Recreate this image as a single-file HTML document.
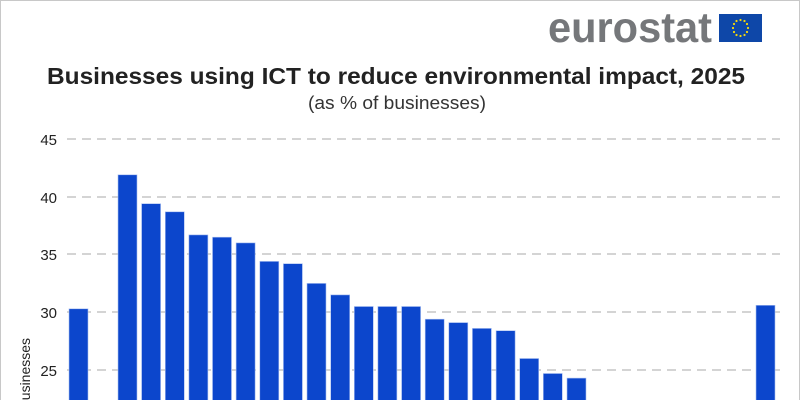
<!DOCTYPE html>
<html><head><meta charset="utf-8"><style>
html,body{margin:0;padding:0;background:#fff;overflow:hidden}
body{width:800px;height:400px;overflow:hidden;position:relative;font-family:"Liberation Sans",sans-serif}
</style></head><body>
<svg width="800" height="400" xmlns="http://www.w3.org/2000/svg" style="position:absolute;left:0;top:0;overflow:hidden">
<rect x="0.5" y="0.5" width="799" height="410" fill="#fff" stroke="#c8c8c8"/>
<text x="548" y="42" font-family="Liberation Sans" font-weight="bold" font-size="43" fill="#75777a" textLength="164" lengthAdjust="spacingAndGlyphs">eurostat</text>
<rect x="719" y="14" width="43" height="28" fill="#0e47a8"/>
<g fill="#f5d90a">
<circle cx="740.5" cy="20" r="1.1"/><circle cx="744.5" cy="21" r="1.1"/><circle cx="747" cy="24" r="1.1"/><circle cx="748" cy="28" r="1.1"/><circle cx="747" cy="32" r="1.1"/><circle cx="744.5" cy="35" r="1.1"/><circle cx="740.5" cy="36" r="1.1"/><circle cx="736.5" cy="35" r="1.1"/><circle cx="734" cy="32" r="1.1"/><circle cx="733" cy="28" r="1.1"/><circle cx="734" cy="24" r="1.1"/><circle cx="736.5" cy="21" r="1.1"/>
</g>
<text x="47" y="84" font-weight="bold" font-size="23" fill="#222" textLength="698" lengthAdjust="spacingAndGlyphs">Businesses using ICT to reduce environmental impact, 2025</text>
<text x="308" y="109" font-size="18" fill="#333" textLength="178" lengthAdjust="spacingAndGlyphs">(as % of businesses)</text>
<g stroke="#aaa" stroke-dasharray="9,6" stroke-width="1">
<line x1="67" x2="780" y1="139" y2="139"/><line x1="67" x2="780" y1="197" y2="197"/><line x1="67" x2="780" y1="254" y2="254"/><line x1="67" x2="780" y1="312" y2="312"/><line x1="67" x2="780" y1="370" y2="370"/>
</g>
<g font-size="15" fill="#222" text-anchor="end">
<text x="57" y="145">45</text><text x="57" y="203">40</text><text x="57" y="260">35</text><text x="57" y="318">30</text><text x="57" y="376">25</text>
</g>
<text transform="translate(30,408) rotate(-90)" font-size="14" fill="#222">businesses</text>
<g fill="#0c46cc" stroke="#a8bff0" stroke-width="0.6" id="bars"></g>
</svg>
<script>
var vals=[[0,30.3],[2,41.9],[3,39.4],[4,38.7],[5,36.7],[6,36.5],[7,36.0],[8,34.4],[9,34.2],[10,32.5],[11,31.5],[12,30.5],[13,30.5],[14,30.5],[15,29.4],[16,29.1],[17,28.6],[18,28.4],[19,26.0],[20,24.7],[21,24.3],[29,30.6]];
var g=document.getElementById('bars'),s='';
vals.forEach(function(p){var x=p[0]==0?69:118+(p[0]-2)*23.63;var y=139+(45-p[1])*11.55;
s+='<rect x="'+x.toFixed(1)+'" y="'+y.toFixed(1)+'" width="19" height="'+(401-y).toFixed(1)+'"/>';});
g.innerHTML=s;
</script>
</body></html>
